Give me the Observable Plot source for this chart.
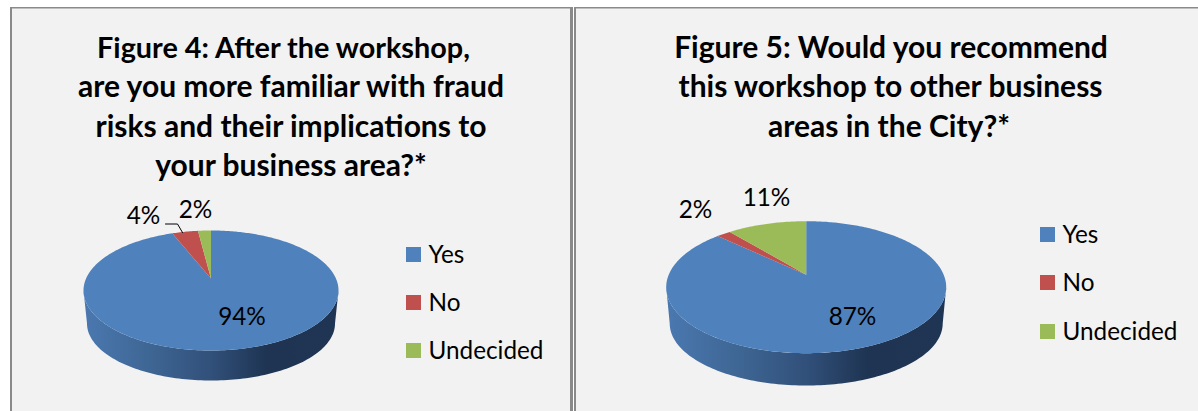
<!DOCTYPE html>
<html>
<head>
<meta charset="utf-8">
<script src="https://cdn.jsdelivr.net/npm/d3@7"></script>
<script src="https://cdn.jsdelivr.net/npm/@observablehq/plot@0.6"></script>
<style>
html,body{margin:0;padding:0;background:#fff}
svg{display:block;max-width:none;background:#fff}
</style>
</head>
<body>
<div id="chart"></div>
<script>
const categories = ["Yes", "No", "Undecided"];
const colors = ["#4f81bd", "#c0504d", "#9bbb59"];
const fig4Values = [94, 4, 2];
const fig5Values = [87, 2, 11];
const fig4Title = ["Figure 4: After the workshop,", "are you more familiar with fraud", "risks and their implications to", "your business area?*"];
const fig5Title = ["Figure 5: Would you recommend", "this workshop to other business", "areas in the City?*"];

const FONT = "Lato, Carlito, Calibri, sans-serif";

// perspective-projected pie: values clockwise from 12 o'clock
function projector(p) {
  const d = p.apex;
  return (theta) => {
    const x = Math.sin(theta), y = Math.cos(theta);
    const w = 1 + d * y;
    const xp = x * Math.sqrt(1 - d * d) / w;
    const yp = (y + d) / w;
    return {x: p.cx + p.rx * xp, y: p.cy - p.ry * yp};
  };
}
function sliceRows(values, p, name) {
  const proj = projector(p);
  const total = d3.sum(values);
  const rows = [];
  const centre = {x: p.cx, y: p.cy - p.ry * p.apex};
  let acc = 0;
  values.forEach((v, i) => {
    const a0 = acc / total * 2 * Math.PI;
    acc += v;
    const a1 = acc / total * 2 * Math.PI;
    const key = name + "-" + categories[i];
    rows.push({key, cat: categories[i], ...centre});
    const n = Math.max(2, Math.ceil(v * 4));
    for (let k = 0; k <= n; k++) {
      rows.push({key, cat: categories[i], ...proj(a0 + (a1 - a0) * k / n)});
    }
    rows.push({key, cat: categories[i], ...centre});
  });
  return rows;
}
function sideRows(p) {
  const rows = [];
  const n = 120;
  for (let k = 0; k <= n; k++) {
    const a = Math.PI * k / n;
    rows.push({x: p.cx - p.rx * Math.cos(a), y: p.cy + p.ry * Math.sin(a)});
  }
  for (let k = n; k >= 0; k--) {
    const a = Math.PI * k / n;
    rows.push({x: p.cx - p.brx * Math.cos(a), y: p.bcy + p.bry * Math.sin(a)});
  }
  return rows;
}

const pie4 = {cx: 210.5, cy: 290, rx: 127.5, ry: 60, apex: 0.2, brx: 124, bcy: 323, bry: 57};
const pie5 = {cx: 805.7, cy: 286.7, rx: 140, ry: 66, apex: 0.19, brx: 136.5, bcy: 323, bry: 62};

const panels = [
  {x1: 11, x2: 571.5, y1: 7, y2: 411},
  {x1: 575, x2: 1198, y1: 7, y2: 411}
];
const borderV = [{x: 10, x2: 12}, {x: 570, x2: 573}, {x: 574, x2: 576}];
const borderH = [{x1: 10, x2: 573}, {x1: 574, x2: 1198}];

const titleRows = [
  ...fig4Title.map((text, i) => ({text, size: i === 0 ? 28.8 : 30, x: [283, 290.5, 290.5, 290.5][i], y: [48, 87, 127, 166][i]})),
  ...fig5Title.map((text, i) => ({text, size: 30, x: [890.5, 890, 888.5][i], y: [48, 87, 127][i]}))
];
const dataLabels = [
  {text: fig4Values[0] + "%", x: 241.5, y: 317},
  {text: fig4Values[1] + "%", x: 143, y: 216},
  {text: fig4Values[2] + "%", x: 195, y: 210},
  {text: fig5Values[0] + "%", x: 852, y: 317},
  {text: fig5Values[1] + "%", x: 695, y: 210},
  {text: fig5Values[2] + "%", x: 766, y: 198}
];
const legendRows = [
  ...categories.map((c, i) => ({c, x: 406, y: [247, 295, 343][i]})),
  ...categories.map((c, i) => ({c, x: 1040, y: [227, 275, 324][i]}))
];
const leader = [{x: 165, y: 223.5}, {x: 177, y: 223.5}, {x: 182, y: 232}];

const defs = () => {
  const d = d3.create("svg:defs");
  const g = d.append("linearGradient").attr("id", "sideGrad");
  [[0, "#4a78b0"], [0.25, "#3f6795"], [0.5, "#31507a"], [0.72, "#1e3452"], [1, "#1e3553"]].forEach(([o, c]) =>
    g.append("stop").attr("offset", o).attr("stop-color", c));
  return d.node();
};

const chart = Plot.plot({
  width: 1198,
  height: 411,
  margin: 0,
  x: {domain: [0, 1198], range: [0, 1198], axis: null},
  y: {domain: [0, 411], range: [0, 411], axis: null},
  color: {domain: categories, range: colors},
  style: {fontFamily: FONT, background: "#fff"},
  marks: [
    defs,
    Plot.rect(panels, {x1: "x1", x2: "x2", y1: "y1", y2: "y2", fill: "#f2f2f2"}),
    Plot.rect(borderV, {x1: "x", x2: "x2", y1: () => 7, y2: () => 411, fill: "#8a8a8a"}),
    Plot.rect(borderH, {x1: "x1", x2: "x2", y1: () => 7, y2: () => 8.5, fill: "#8a8a8a"}),
    Plot.line(sideRows(pie4), {x: "x", y: "y", fill: "url(#sideGrad)", stroke: "none"}),
    Plot.line(sideRows(pie5), {x: "x", y: "y", fill: "url(#sideGrad)", stroke: "none"}),
    Plot.line(sliceRows(fig4Values, pie4, "f4"), {x: "x", y: "y", z: "key", fill: "cat", stroke: "none"}),
    Plot.line(sliceRows(fig5Values, pie5, "f5"), {x: "x", y: "y", z: "key", fill: "cat", stroke: "none"}),
    Plot.line(leader, {x: "x", y: "y", stroke: "#000", strokeWidth: 1}),
    Plot.text(titleRows, {x: "x", y: "y", text: "text", fontSize: d => d.size, fontWeight: 700, fill: "#000", textAnchor: "middle"}),
    Plot.text(dataLabels, {x: "x", y: "y", text: "text", fontSize: 24.3, fill: "#000", textAnchor: "middle"}),
    Plot.rect(legendRows, {x1: "x", x2: d => d.x + 15, y1: "y", y2: d => d.y + 15, fill: "c"}),
    Plot.text(legendRows, {x: d => d.x + 22, y: d => d.y + 8, text: "c", fontSize: 24.3, fill: "#000", textAnchor: "start"})
  ]
});
document.getElementById("chart").appendChild(chart);
</script>
</body>
</html>
